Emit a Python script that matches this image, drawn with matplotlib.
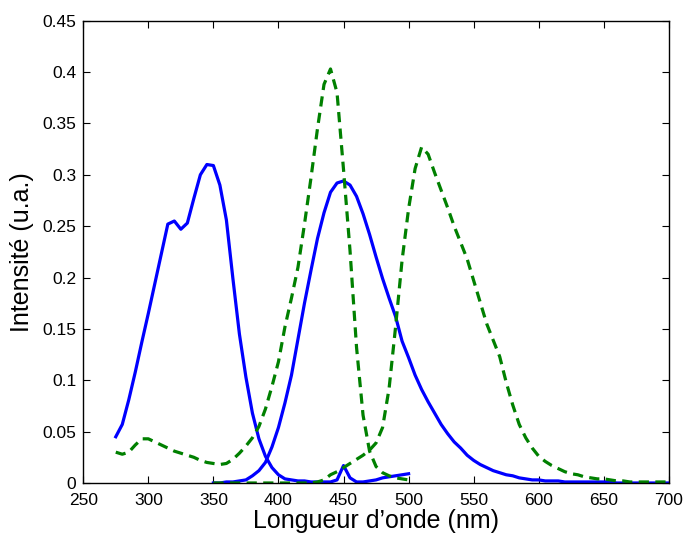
import numpy as np
import matplotlib
matplotlib.use("Agg")
import matplotlib.pyplot as plt

plt.rcParams['font.family'] = ['Liberation Sans', 'DejaVu Sans']

# absorption (blue) and excitation (green), 275-500 nm
wl_abs = np.arange(275, 501, 5)
abs_blue = [0.045, 0.057, 0.081, 0.108, 0.137, 0.165, 0.194, 0.223, 0.252, 0.255,
            0.247, 0.253, 0.277, 0.300, 0.310, 0.309, 0.290, 0.256, 0.199, 0.145,
            0.103, 0.068, 0.043, 0.026, 0.015, 0.008, 0.004, 0.003, 0.002, 0.002,
            0.001, 0.001, 0.001, 0.001, 0.003, 0.017, 0.005, 0.001, 0.001, 0.002,
            0.003, 0.005, 0.006, 0.007, 0.008, 0.009]
exc_green = [0.030, 0.028, 0.030, 0.037, 0.043, 0.043, 0.040, 0.037, 0.034, 0.031,
             0.029, 0.027, 0.025, 0.022, 0.020, 0.019, 0.018, 0.019, 0.023, 0.029,
             0.036, 0.044, 0.055, 0.072, 0.094, 0.118, 0.152, 0.180, 0.210, 0.252,
             0.297, 0.345, 0.388, 0.403, 0.380, 0.305, 0.226, 0.132, 0.066, 0.031,
             0.016, 0.010, 0.007, 0.005, 0.004, 0.003]

# emission curves, 350-700 nm
wl_em = np.arange(350, 701, 5)
em_blue = [0.000, 0.000, 0.001, 0.001, 0.002, 0.003, 0.007, 0.012, 0.020, 0.035,
           0.054, 0.078, 0.105, 0.140, 0.175, 0.207, 0.238, 0.263, 0.283, 0.292,
           0.294, 0.290, 0.279, 0.262, 0.242, 0.220, 0.199, 0.180, 0.162, 0.138,
           0.122, 0.105, 0.091, 0.079, 0.068, 0.057, 0.048, 0.040, 0.034, 0.027,
           0.022, 0.018, 0.015, 0.012, 0.010, 0.008, 0.007, 0.005, 0.004, 0.003,
           0.003, 0.002, 0.002, 0.002, 0.001, 0.001, 0.001, 0.001, 0.001, 0.001,
           0.001, 0.001, 0.000, 0.000, 0.000, 0.000, 0.000, 0.000, 0.000, 0.000,
           0.000]
em_green = [0.000, 0.000, 0.000, 0.000, 0.000, 0.000, 0.000, 0.000, 0.000, 0.000,
            0.000, 0.000, 0.000, 0.000, 0.000, 0.000, 0.001, 0.003, 0.008, 0.011,
            0.015, 0.019, 0.023, 0.027, 0.032, 0.039, 0.054, 0.092, 0.152, 0.217,
            0.267, 0.306, 0.327, 0.320, 0.302, 0.285, 0.268, 0.250, 0.234, 0.218,
            0.197, 0.176, 0.155, 0.139, 0.123, 0.098, 0.076, 0.057, 0.044, 0.034,
            0.026, 0.021, 0.017, 0.014, 0.011, 0.009, 0.008, 0.006, 0.005, 0.004,
            0.004, 0.003, 0.002, 0.002, 0.001, 0.001, 0.001, 0.001, 0.001, 0.001,
            0.001]

xticks = np.arange(250, 701, 50)
yticks = [0, 0.05, 0.1, 0.15, 0.2, 0.25, 0.3, 0.35, 0.4, 0.45]
ylabels = ['0', '0.05', '0.1', '0.15', '0.2', '0.25', '0.3', '0.35', '0.4', '0.45']

fig = plt.figure(figsize=(6.85, 5.36), dpi=100)
ax = fig.add_axes([0.1215, 0.0989, 0.855, 0.8625])

blue = (0, 0, 1)
green = (0, 0.5, 0)
lw = 2.3
ax.plot(wl_abs, abs_blue, color=blue, lw=lw)
ax.plot(wl_em, em_blue, color=blue, lw=lw)
ax.plot(wl_abs, exc_green, color=green, lw=lw, ls='--', dashes=(3.2, 2))
ax.plot(wl_em, em_green, color=green, lw=lw, ls='--', dashes=(3.2, 2))

ax.set_xlim(250, 700)
ax.set_ylim(0, 0.45)
ax.set_xticks(xticks)
ax.set_yticks(yticks)
ax.set_yticklabels(ylabels)
ax.tick_params(direction='in', top=True, right=True, length=5, labelsize=12.5)
ax.tick_params(axis='x', pad=7)
ax.tick_params(axis='y', pad=5)
for s in ax.spines.values():
    s.set_linewidth(1.0)
ax.set_xlabel("Longueur d\u2019onde (nm)", fontsize=18, labelpad=1)
ax.set_ylabel("Intensité (u.a.)", fontsize=18, labelpad=6)

fig.savefig("out.png", dpi=100)
